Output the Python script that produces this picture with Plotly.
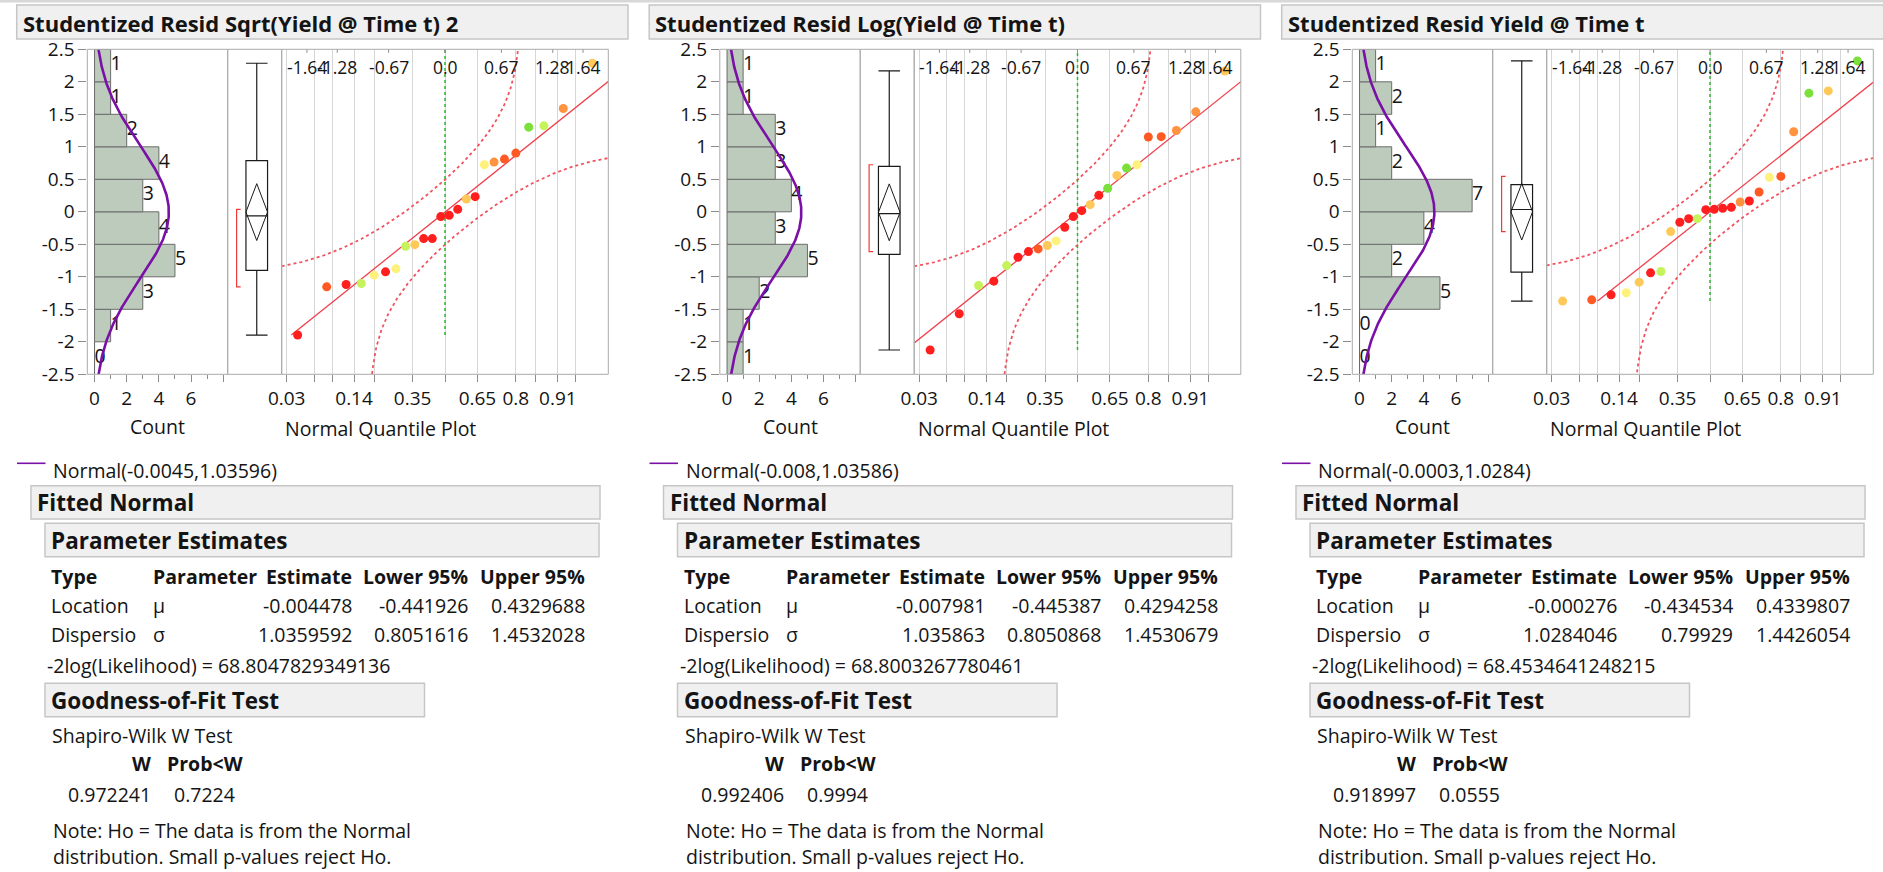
import numpy as np
import plotly.graph_objects as go
from statistics import NormalDist

W, H = 1883, 872
PANEL_STEP = 632.5
STD = NormalDist()
FONT = "Open Sans"

# ---------------------------------------------------------------- data
panel_titles = [
    "Studentized Resid Sqrt(Yield @ Time t) 2",
    "Studentized Resid Log(Yield @ Time t)",
    "Studentized Resid Yield @ Time t",
]

# studentized residuals, sorted ascending
resid_sqrt = [-1.896, -1.154, -1.118, -1.103, -0.975, -0.924, -0.878, -0.530,
              -0.505, -0.412, -0.412, -0.074, -0.054, 0.038, 0.197, 0.233,
              0.724, 0.765, 0.811, 0.903, 1.302, 1.323, 1.589, 2.285]
resid_log = [-2.126, -1.569, -1.134, -1.067, -0.827, -0.699, -0.612, -0.571,
             -0.519, -0.448, -0.238, -0.074, 0.018, 0.110, 0.253, 0.361,
             0.560, 0.673, 0.724, 1.150, 1.156, 1.251, 1.538, 2.167]
resid_yield = [-1.374, -1.354, -1.277, -1.246, -1.082, -0.939, -0.919, -0.304,
               -0.161, -0.105, -0.105, 0.033, 0.038, 0.054, 0.069, 0.151,
               0.166, 0.305, 0.530, 0.545, 1.231, 1.825, 1.860, 2.321]

RED, ORED, ORNG, GOLD, YELL, YGRN, GRN = (
    "#FF1F1F", "#FF5A24", "#FF9340", "#FFC95A", "#FFF27C", "#C6F25C", "#7BE03A")

colors_sqrt = [RED, ORED, RED, YGRN, YELL, RED, YELL, YGRN, GOLD, RED, RED, RED,
               RED, RED, GOLD, RED, YELL, ORNG, ORED, ORED, GRN, YGRN, ORNG, GOLD]
colors_log = [RED, RED, YGRN, RED, YGRN, RED, RED, ORED, GOLD, YELL, RED, RED,
              RED, GOLD, RED, GRN, GOLD, GRN, YELL, ORED, ORED, ORNG, ORNG, GOLD]
colors_yield = [GOLD, ORED, RED, YELL, GOLD, RED, YGRN, GOLD, RED, RED, YGRN, RED,
                RED, RED, RED, ORNG, RED, ORED, YELL, ORED, ORNG, GRN, GOLD, GRN]

normal_labels = ["Normal(-0.0045,1.03596)", "Normal(-0.008,1.03586)",
                 "Normal(-0.0003,1.0284)"]
loc_est = ["-0.004478", "-0.007981", "-0.000276"]
loc_lower = ["-0.441926", "-0.445387", "-0.434534"]
loc_upper = ["0.4329688", "0.4294258", "0.4339807"]
disp_est = ["1.0359592", "1.035863", "1.0284046"]
disp_lower = ["0.8051616", "0.8050868", "0.79929"]
disp_upper = ["1.4532028", "1.4530679", "1.4426054"]
neg2loglik = ["68.8047829349136", "68.8003267780461", "68.4534641248215"]
shapiro_w = ["0.972241", "0.992406", "0.918997"]
shapiro_p = ["0.7224", "0.9994", "0.0555"]

bin_edges = [-2.5, -2.0, -1.5, -1.0, -0.5, 0.0, 0.5, 1.0, 1.5, 2.0, 2.5]
y_ticks = [-2.5, -2, -1.5, -1, -0.5, 0, 0.5, 1, 1.5, 2, 2.5]
y_tick_text = ["-2.5", "-2", "-1.5", "-1", "-0.5", "0", "0.5", "1", "1.5", "2", "2.5"]
count_ticks = [0, 2, 4, 6, 8]
count_tick_text = ["0", "2", "4", "6", ""]
count_minor = [1, 3, 5, 7]
prob_grid = [0.03, 0.06, 0.09, 0.14, 0.2, 0.35, 0.5, 0.65, 0.8, 0.86, 0.91, 0.94]
prob_shown = ["0.03", "0.14", "0.35", "0.65", "0.8", "0.91"]
quantile_ticks = [-1.64, -1.28, -0.67, 0.0, 0.67, 1.28, 1.64]
quantile_tick_text = ["-1.64", "-1.28", "-0.67", "0.0", "0.67", "1.28", "1.64"]
LILLIEFORS_D = 0.185   # half-width of the normal-fit confidence band (probability scale)

panels = [
    (resid_sqrt, colors_sqrt),
    (resid_log, colors_log),
    (resid_yield, colors_yield),
]

# ---------------------------------------------------------------- styling
FRAME = "#ABABAB"
TICK = "#8C8C8C"
GRID = "#D6D6D6"
TXT = "#141414"
HEADER_FILL = "#F0F0F0"
HEADER_LINE = "#C6C6C6"
SZ_TEXT = 19.5
SZ_TICK = 19
SZ_TOP = 17.5
SZ_HEAD = 22.5
SZ_TITLE = 22

PLOT_TOP, PLOT_BOT = 49.3, 374.3
HIST_L, HIST_R = 87.3, 227.7
BOX_L, BOX_R = 227.7, 281.7
QQ_L, QQ_R = 281.7, 608.3
Z_RANGE = [-1.94, 1.94]
COUNT_RANGE = [-0.45, 8.28]


def fx(px):
    return px / W


def fy(py):
    return 1 - py / H


fig = go.Figure()
layout = dict(
    width=W, height=H, margin=dict(l=0, r=0, t=0, b=0, autoexpand=False),
    paper_bgcolor="white", plot_bgcolor="white", showlegend=False,
    font=dict(family=FONT, color=TXT, size=18),
)
annotations = []
shapes = []


def axname(kind, i):
    return kind if i == 1 else f"{kind}{i}"


def label(x, y, s, size=SZ_TEXT, bold=False, anchor="left"):
    annotations.append(dict(
        x=fx(x), y=fy(y), xref="paper", yref="paper", showarrow=False,
        text=f"<b>{s}</b>" if bold else s, xanchor=anchor, yanchor="middle",
        font=dict(family=FONT, size=size, color=TXT)))


def header_box(x0, x1, y0, y1):
    shapes.append(dict(type="rect", xref="paper", yref="paper",
                       x0=fx(x0), x1=fx(x1), y0=fy(y1), y1=fy(y0),
                       fillcolor=HEADER_FILL, line=dict(color=HEADER_LINE, width=1.5),
                       layer="below"))


def frame(x0, x1):
    shapes.append(dict(type="rect", xref="paper", yref="paper",
                       x0=fx(x0), x1=fx(x1), y0=fy(PLOT_BOT), y1=fy(PLOT_TOP),
                       line=dict(color=FRAME, width=1), layer="above"))


# thin rule along the top of the window
shapes.append(dict(type="rect", xref="paper", yref="paper", x0=0, x1=1,
                   y0=fy(2.5), y1=1, fillcolor="#D8D8D8", line=dict(width=0)))

for p, (vals, cols) in enumerate(panels):
    ox = PANEL_STEP * p
    vals = np.asarray(vals, dtype=float)
    n = len(vals)
    mu, sigma = float(loc_est[p]), float(disp_est[p])
    mu_lo, mu_hi = float(loc_lower[p]), float(loc_upper[p])

    xh, xb, xq = 3 * p + 1, 3 * p + 2, 3 * p + 3
    yi = p + 1
    X_H, X_B, X_Q = (axname("x", i) for i in (xh, xb, xq))
    Y = axname("y", yi)

    # ---------------- histogram with fitted normal density
    counts, _ = np.histogram(vals, bins=bin_edges)
    centers = [(a + b) / 2 for a, b in zip(bin_edges[:-1], bin_edges[1:])]
    bw = bin_edges[1] - bin_edges[0]
    fig.add_trace(go.Bar(
        x=counts, y=centers, orientation="h", width=bw,
        marker=dict(color="#BCCBBC", line=dict(color="#6C6C6C", width=1)),
        xaxis=X_H, yaxis=Y, hoverinfo="skip"))
    fig.add_trace(go.Scatter(
        x=counts, y=centers, mode="text", text=[str(c) for c in counts],
        textposition="middle right", textfont=dict(family=FONT, size=SZ_TEXT, color=TXT),
        xaxis=X_H, yaxis=Y, hoverinfo="skip", cliponaxis=False))
    yy = np.linspace(-2.5, 2.5, 301)
    dens = n * bw * np.exp(-0.5 * ((yy - mu) / sigma) ** 2) / (sigma * np.sqrt(2 * np.pi))
    fig.add_trace(go.Scatter(
        x=dens, y=yy, mode="lines", line=dict(color="#7A10A6", width=2.6),
        xaxis=X_H, yaxis=Y, hoverinfo="skip"))

    # ---------------- outlier box plot, means diamond, shortest half
    bc, bwid = 0.538, 0.4
    fig.add_trace(go.Box(
        y=vals, x0=bc, width=bwid, boxpoints=False, quartilemethod="exclusive",
        whiskerwidth=1, fillcolor="rgba(255,255,255,0)",
        line=dict(color="#1A1A1A", width=1.2), xaxis=X_B, yaxis=Y, hoverinfo="skip"))
    fig.add_trace(go.Scatter(
        x=[bc - bwid / 2, bc, bc + bwid / 2, bc, bc - bwid / 2],
        y=[mu, mu_hi, mu, mu_lo, mu], mode="lines",
        line=dict(color="#1A1A1A", width=1), xaxis=X_B, yaxis=Y, hoverinfo="skip"))
    m = n // 2 + 1
    spans = [vals[i + m - 1] - vals[i] for i in range(n - m + 1)]
    k = int(np.argmin(spans))
    sh_lo, sh_hi = vals[k], vals[k + m - 1]
    fig.add_trace(go.Scatter(
        x=[0.24, 0.165, 0.165, 0.24], y=[sh_lo, sh_lo, sh_hi, sh_hi], mode="lines",
        line=dict(color="#F03A3A", width=1.2), xaxis=X_B, yaxis=Y, hoverinfo="skip"))

    # ---------------- normal quantile plot
    z = np.array([STD.inv_cdf((i + 1) / (n + 1)) for i in range(n)])
    zz = np.linspace(Z_RANGE[0], Z_RANGE[1], 500)
    up, lo = [], []
    for v in zz:
        pu = STD.cdf(v) + LILLIEFORS_D
        pl = STD.cdf(v) - LILLIEFORS_D
        up.append(mu + sigma * STD.inv_cdf(pu) if pu < 0.9995 else None)
        lo.append(mu + sigma * STD.inv_cdf(pl) if pl > 0.0005 else None)
    for band in (up, lo):
        fig.add_trace(go.Scatter(
            x=zz, y=band, mode="lines", line=dict(color="#F2525E", width=1.8, dash="dot"),
            xaxis=X_Q, yaxis=Y, hoverinfo="skip", connectgaps=False))
    fig.add_trace(go.Scatter(
        x=[0, 0], y=[vals.min(), 2.5], mode="lines",
        line=dict(color="#2DB52D", width=1.5, dash="dot"),
        xaxis=X_Q, yaxis=Y, hoverinfo="skip"))
    zfit = np.array([(vals.min() - mu) / sigma, (vals.max() - mu) / sigma])
    fig.add_trace(go.Scatter(
        x=zfit, y=mu + sigma * zfit, mode="lines", line=dict(color="#F0404C", width=1.3),
        xaxis=X_Q, yaxis=Y, hoverinfo="skip"))
    fig.add_trace(go.Scatter(
        x=z, y=vals, mode="markers", marker=dict(color=cols, size=9, line=dict(width=0)),
        xaxis=X_Q, yaxis=Y, hoverinfo="skip"))

    # ---------------- axes
    tickfont = dict(family=FONT, size=SZ_TICK, color=TXT)
    layout[axname("yaxis", yi)] = dict(
        domain=[fy(PLOT_BOT), fy(PLOT_TOP)], range=[-2.5, 2.5], anchor=X_H,
        tickvals=y_ticks, ticktext=y_tick_text, ticks="outside", ticklen=8,
        tickcolor=TICK, showgrid=False, zeroline=False, showline=False,
        tickfont=tickfont, automargin=False)
    layout[axname("xaxis", xh)] = dict(
        domain=[fx(ox + HIST_L), fx(ox + HIST_R)], range=COUNT_RANGE, anchor=Y,
        tickvals=count_ticks, ticktext=count_tick_text, ticks="outside", ticklen=7,
        tickcolor=TICK, minor=dict(tickvals=count_minor, ticks="outside", ticklen=4,
                                   tickcolor=TICK),
        showgrid=False, zeroline=False, showline=False, tickfont=tickfont,
        automargin=False)
    layout[axname("xaxis", xb)] = dict(
        domain=[fx(ox + BOX_L), fx(ox + BOX_R)], range=[0, 1], anchor=Y,
        visible=False, type="linear", automargin=False)
    zgrid = [STD.inv_cdf(q) for q in prob_grid]
    ztext = [f"{q:g}" if f"{q:g}" in prob_shown else "" for q in prob_grid]
    layout[axname("xaxis", xq)] = dict(
        domain=[fx(ox + QQ_L), fx(ox + QQ_R)], range=Z_RANGE, anchor=Y,
        tickvals=zgrid, ticktext=ztext, ticks="outside", ticklen=7, tickcolor=TICK,
        showgrid=True, gridcolor=GRID, gridwidth=1, zeroline=False, showline=False,
        tickfont=tickfont, automargin=False)

    # normal-quantile scale along the top edge, labels inside the frame
    for zv, zs in zip(quantile_ticks, quantile_tick_text):
        annotations.append(dict(
            x=zv, y=fy(PLOT_TOP + 17.5), xref=X_Q, yref="paper", showarrow=False,
            text=zs, xanchor="center", yanchor="middle",
            font=dict(family=FONT, size=SZ_TOP, color=TXT)))
        shapes.append(dict(type="line", xref=X_Q, yref="paper", x0=zv, x1=zv,
                           y0=fy(PLOT_TOP), y1=fy(PLOT_TOP + 3.5),
                           line=dict(color=TICK, width=1)))

    frame(ox + HIST_L, ox + HIST_R)
    frame(ox + BOX_L, ox + BOX_R)
    frame(ox + QQ_L, ox + QQ_R)

    label(ox + (HIST_L + HIST_R) / 2, 426.7, "Count", anchor="center")
    label(ox + 380.7, 428.3, "Normal Quantile Plot", anchor="center")

    # ---------------- report text
    header_box(ox + 16.7, ox + 628, 5, 39)
    label(ox + 20.5, 22.5, panel_titles[p], size=SZ_TITLE, bold=True)

    shapes.append(dict(type="line", xref="paper", yref="paper",
                       x0=fx(ox + 17), x1=fx(ox + 45.5), y0=fy(463.3), y1=fy(463.3),
                       line=dict(color="#7A10A6", width=1.6)))
    label(ox + 51, 470.5, normal_labels[p])

    header_box(ox + 31, ox + 600, 485.7, 519)
    label(ox + 35, 502.5, "Fitted Normal", size=SZ_HEAD, bold=True)
    header_box(ox + 45, ox + 599, 523.3, 556.7)
    label(ox + 49, 540, "Parameter Estimates", size=SZ_HEAD, bold=True)

    y_head, y_r1, y_r2 = 576.7, 605.2, 634
    label(ox + 49, y_head, "Type", bold=True)
    label(ox + 151, y_head, "Parameter", bold=True)
    label(ox + 354, y_head, "Estimate", bold=True, anchor="right")
    label(ox + 470, y_head, "Lower 95%", bold=True, anchor="right")
    label(ox + 587, y_head, "Upper 95%", bold=True, anchor="right")
    label(ox + 49, y_r1, "Location")
    label(ox + 151, y_r1, "μ")
    label(ox + 354, y_r1, loc_est[p], anchor="right")
    label(ox + 470, y_r1, loc_lower[p], anchor="right")
    label(ox + 587, y_r1, loc_upper[p], anchor="right")
    label(ox + 49, y_r2, "Dispersio")
    label(ox + 151, y_r2, "σ")
    label(ox + 354, y_r2, disp_est[p], anchor="right")
    label(ox + 470, y_r2, disp_lower[p], anchor="right")
    label(ox + 587, y_r2, disp_upper[p], anchor="right")
    label(ox + 45, 665.5, f"-2log(Likelihood) = {neg2loglik[p]}")

    header_box(ox + 45, ox + 424.5, 683.3, 716.7)
    label(ox + 49, 700, "Goodness-of-Fit Test", size=SZ_HEAD, bold=True)
    label(ox + 50, 735, "Shapiro-Wilk W Test")
    label(ox + 153, 763.5, "W", bold=True, anchor="right")
    label(ox + 245, 763.5, "Prob&lt;W", bold=True, anchor="right")
    label(ox + 153, 794, shapiro_w[p], anchor="right")
    label(ox + 237, 794, shapiro_p[p], anchor="right")
    label(ox + 51, 830, "Note: Ho = The data is from the Normal")
    label(ox + 51, 856, "distribution. Small p-values reject Ho.")

layout["annotations"] = annotations
layout["shapes"] = shapes
fig.update_layout(**layout)

fig.write_html("out.html", post_script="document.body.style.margin='0';")
